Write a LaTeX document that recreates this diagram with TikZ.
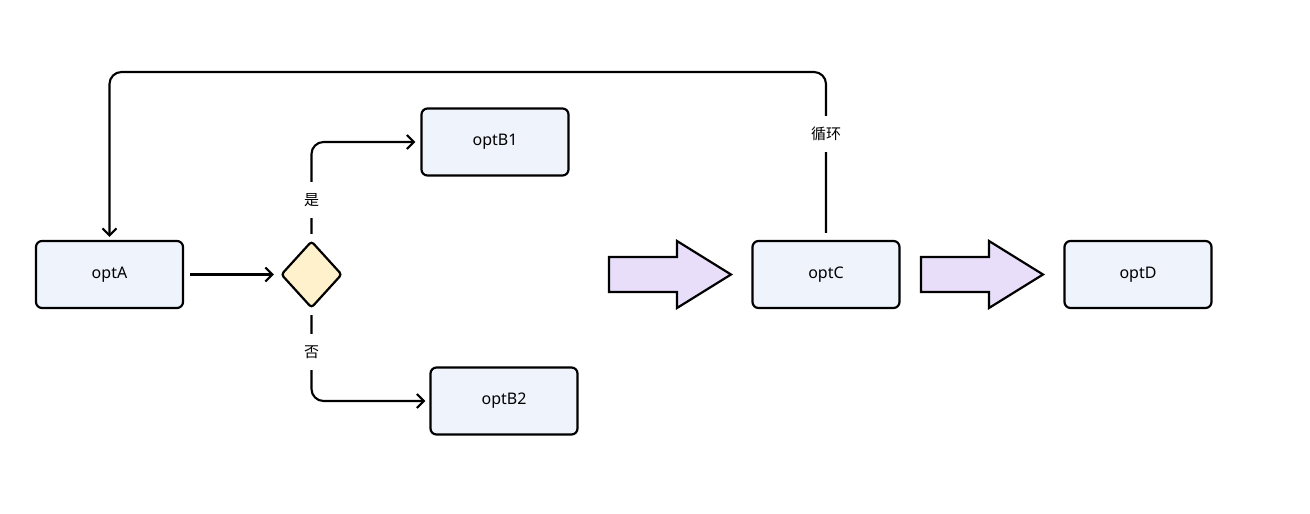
\documentclass[tikz,border=0pt]{standalone}
\usepackage{fontspec}
\setmainfont{Noto Sans}
\newfontfamily\cjk{Noto Sans CJK SC}
\usetikzlibrary{arrows.meta,shapes.geometric}
\definecolor{boxfill}{HTML}{EFF3FC}
\definecolor{dfill}{HTML}{FFF1CC}
\definecolor{afill}{HTML}{E8DEFA}
\begin{document}
\begin{tikzpicture}[x=1pt,y=-1pt,
  box/.style={draw, line width=2.2pt, rounded corners=6pt, fill=boxfill,
    minimum width=147pt, minimum height=67pt, inner sep=0pt,
    font=\fontsize{16}{19}\selectfont},
  decision/.style={draw, diamond, line width=2.2pt, rounded corners=3pt, fill=dfill,
    minimum width=61pt, minimum height=67pt, inner sep=0pt},
  conn/.style={draw, line width=2.1pt, rounded corners=12pt,
    -{Straight Barb[length=7pt,width=14pt,line width=2.1pt]}},
  lbl/.style={fill=white, inner sep=0pt, minimum height=36pt, minimum width=22pt,
    font=\cjk\fontsize{15}{18}\selectfont},
  bigarrow/.style={draw, line width=2.2pt, fill=afill, line join=miter}]
\useasboundingbox (0,0) rectangle (1310,514);

\node[box] (A) at (109.5,274.5) {optA};
\node[decision] (dm) at (311.5,274.5) {};
\node[box] (B1) at (495,142) {optB1};
\node[box] (B2) at (504,401) {optB2};
\node[box] (C) at (826,274.5) {optC};
\node[box] (D) at (1138,274.5) {optD};

% big arrows
\draw[bigarrow] (609,257) -- (677,257) -- (677,241) -- (731,274.5) -- (677,308) -- (677,292) -- (609,292) -- cycle;
\draw[bigarrow] (921,257) -- (989,257) -- (989,241) -- (1043,274.5) -- (989,308) -- (989,292) -- (921,292) -- cycle;

% connectors
\draw[conn, shorten <=6pt, shorten >=6pt] (A.east) -- (dm.west);
\draw[conn, shorten <=6pt, shorten >=5pt] (dm.north) |- (B1.west);
\draw[conn, shorten <=6pt, shorten >=4pt] (dm.south) |- (B2.west);
\draw[conn, shorten <=7pt, shorten >=3pt] (C.north) -- (C.north |- 0,72) -| (A.north);

% labels
\node[lbl] (l1) at (311.5,200) {是};
\node[lbl] (l2) at (311.5,352) {否};
\node[lbl, minimum width=40pt] (l3) at (826,134) {循环};
\end{tikzpicture}
\end{document}
